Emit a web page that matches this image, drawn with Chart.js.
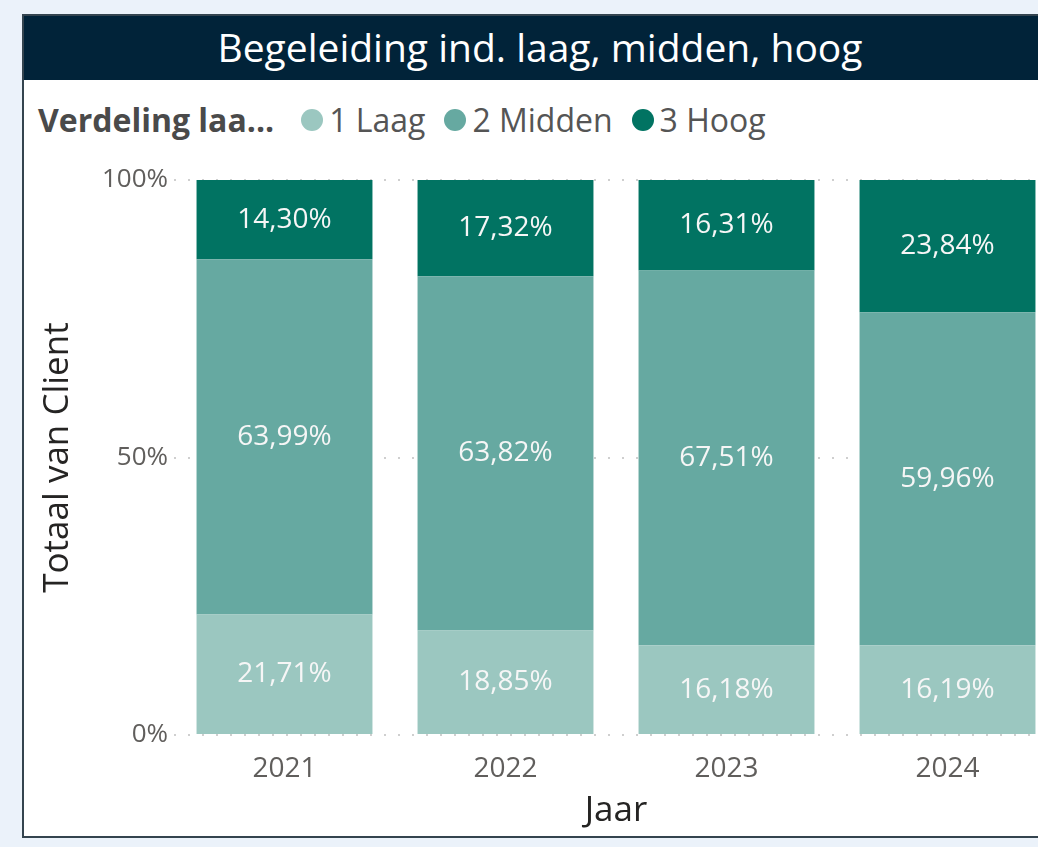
<!DOCTYPE html>
<html>
<head>
<meta charset="utf-8">
<script src="https://cdn.jsdelivr.net/npm/chart.js@4.4.1/dist/chart.umd.min.js"></script>
<style>
  html, body { margin: 0; padding: 0; }
  body { width: 1038px; height: 847px; overflow: hidden; background: #ebf2fa; position: relative; font-family: "Open Sans", sans-serif; }
  #panel { position: absolute; left: 22px; top: 14px; width: 1120px; height: 824px; background: #fff; border: 2px solid #34444f; box-sizing: border-box; }
  #title { height: 64px; color: #fff; font-size: 39px; font-weight: 500; line-height: 62px; position: absolute; left: 0; top: 0; width: 1032px; text-align: center; }
  #titlebg { height: 64px; background: #012339; }
  #legend { position: absolute; left: 14px; top: 82px; display: flex; align-items: center; font-size: 32px; color: #555; white-space: nowrap; }
  #legend b { color: #4a4a4a; margin-right: 27px; }
  #legend .item { display: flex; align-items: center; margin-right: 19px; }
  #legend .dot { width: 22px; height: 22px; border-radius: 50%; margin-right: 6px; }
  #wrap { position: absolute; left: 1px; top: 134px; width: 1060px; height: 688px; }
</style>
</head>
<body>
<div id="panel">
  <div id="titlebg"></div>
  <div id="title">Begeleiding ind. laag, midden, hoog</div>
  <div id="legend"></div>
  <div id="wrap"><canvas id="chart"></canvas></div>
</div>
<script>
const YEARS  = ["2021", "2022", "2023", "2024"];
const LAAG   = [21.71, 18.85, 16.18, 16.19];
const MIDDEN = [63.99, 63.82, 67.51, 59.96];
const HOOG   = [14.30, 17.32, 16.31, 23.84];
const SERIES_NAMES  = ["1 Laag", "2 Midden", "3 Hoog"];
const SERIES_COLORS = ["#9bc7c0", "#66a9a1", "#017362"];
const Y_TICKS = [0, 50, 100];

const GRID = "#cfcfcf";
const TEXT = "#605e5c";
const DARK = "#252423";

// legend (Power BI style, inline title)
const legend = document.getElementById("legend");
legend.innerHTML = "<b>Verdeling laa...</b>" + SERIES_NAMES.map((n, i) =>
  `<span class="item"><span class="dot" style="background:${SERIES_COLORS[i]}"></span>${n}</span>`).join("");

function fmt(v) {
  return v.toFixed(2).replace(".", ",") + "%";
}

const labelPlugin = {
  id: "segLabels",
  afterDatasetsDraw(chart) {
    const ctx = chart.ctx;
    ctx.save();
    ctx.font = '28px "Open Sans"';
    ctx.fillStyle = "#f6f6f6";
    ctx.textAlign = "center";
    ctx.textBaseline = "middle";
    chart.data.datasets.forEach((ds, di) => {
      chart.getDatasetMeta(di).data.forEach((bar, i) => {
        const p = bar.getProps(["x", "y", "base"], true);
        ctx.fillText(fmt(ds.data[i]), p.x, (p.y + p.base) / 2);
      });
    });
    ctx.restore();
  },
};

const data = [LAAG, MIDDEN, HOOG];

new Chart(document.getElementById("chart"), {
  type: "bar",
  data: {
    labels: YEARS,
    datasets: data.map((d, i) => ({
      label: SERIES_NAMES[i],
      data: d,
      backgroundColor: SERIES_COLORS[i],
      categoryPercentage: 1,
      barPercentage: 0.796,
    })),
  },
  options: {
    responsive: true,
    maintainAspectRatio: false,
    animation: false,
    layout: { padding: { top: 30, left: 0, right: 27, bottom: 0 } },
    plugins: { legend: { display: false }, tooltip: { enabled: false } },
    scales: {
      x: {
        stacked: true,
        grid: { display: false },
        border: { display: false },
        ticks: { color: TEXT, font: { size: 28, family: "Open Sans" }, padding: 9 },
        title: { display: true, text: "Jaar", color: DARK, font: { size: 35, family: "Open Sans" }, padding: { top: 4, bottom: 6 } },
        afterFit: s => { s.height = 103; },
      },
      y: {
        stacked: true,
        min: 0, max: 100,
        afterBuildTicks: s => { s.ticks = Y_TICKS.map(v => ({ value: v })); },
        grid: { color: GRID, lineWidth: 2, drawTicks: false },
        border: { display: false, dash: [2, 12] },
        ticks: { color: TEXT, font: { size: 26, family: "Open Sans" }, padding: 6, callback: v => v + "%" },
        title: { display: true, text: "Totaal van Client", color: DARK, font: { size: 35, family: "Open Sans" }, padding: { top: 12, bottom: 0 } },
        afterFit: s => { s.width = 149; },
      },
    },
  },
  plugins: [labelPlugin],
});
</script>
</body>
</html>
